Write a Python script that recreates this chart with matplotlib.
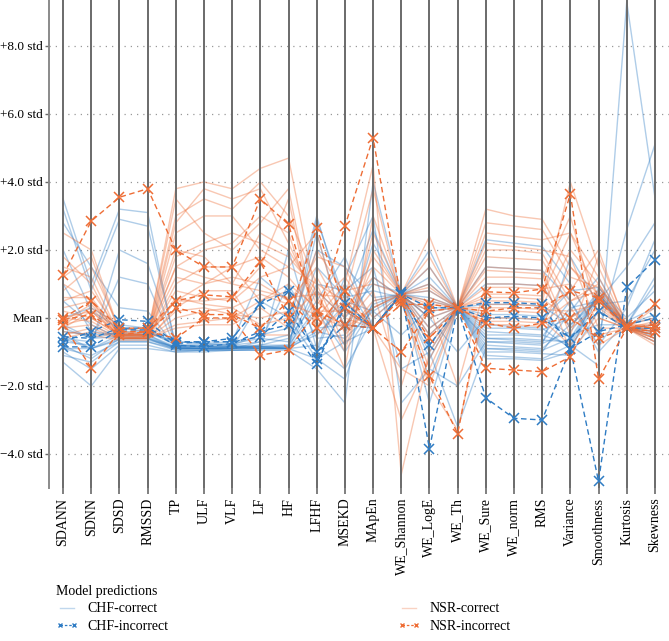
import matplotlib
matplotlib.use("Agg")
import matplotlib.pyplot as plt
from matplotlib.lines import Line2D

plt.rcParams['font.family'] = ['Liberation Serif', 'DejaVu Serif']

# Feature axes of the parallel-coordinates plot
features = ['SDANN', 'SDNN', 'SDSD', 'RMSSD', 'TP', 'ULF', 'VLF', 'LF', 'HF', 'LFHF',
            'MSEKD', 'MApEn', 'WE_Shannon', 'WE_LogE', 'WE_Th', 'WE_Sure', 'WE_norm',
            'RMS', 'Variance', 'Smoothness', 'Kurtosis', 'Skewness']

# y ticks in std units
ytick_vals = [-4, -2, 0, 2, 4, 6, 8]
ytick_labels = ['\u22124.0 std', '\u22122.0 std', 'Mean', '+2.0 std', '+4.0 std', '+6.0 std', '+8.0 std']

# CHF samples classified correctly (standardised values, one row per sample)
chf_correct = [
    [3.5, 1.0, 3.2, 3.1, -0.9, -0.9, -0.85, -0.9, -0.9, 2.9, 0.5, 0.2, 0.7, 0.0, 0.3, -0.8, -0.85, -0.9, -0.2, 0.6, -0.3, -0.4],
    [3.2, 0.8, 2.9, 2.7, -0.8, -0.85, -0.8, -0.85, -0.85, 2.5, -0.4, 1.2, 0.6, -1.0, 0.3, -0.6, -0.65, -0.7, 0.3, 0.5, -0.2, 0.1],
    [-1.3, -2.0, -0.9, -0.9, -1.0, -0.95, -0.95, -0.95, -0.95, -1.5, -2.5, 4.0, 0.7, 1.5, 0.3, -1.1, -1.15, -1.2, -0.8, -1.4, 9.3, 3.55],
    [-0.5, -0.9, -0.5, -0.5, -0.85, -0.9, -0.9, -0.8, -0.6, 0.5, 1.8, -0.3, 0.7, 2.0, 0.3, 2.3, 2.2, 2.1, 1.0, -0.5, 2.6, 5.1],
    [-0.8, -1.2, -0.6, -0.6, -0.95, -0.95, -0.9, 0.5, 0.0, -1.2, -1.8, 0.5, 0.7, -2.5, 0.3, -0.4, -0.45, -0.5, -0.8, 0.7, -0.3, -0.7],
    [-0.3, -0.6, -0.4, -0.4, -0.8, -0.85, -0.85, -0.85, -0.8, 1.0, 0.8, 1.5, -1.5, -1.0, -3.2, -0.9, -0.95, -1.0, 0.2, 1.2, -0.3, -0.5],
    [-0.9, -1.1, -0.7, -0.7, -0.9, -0.9, -0.9, -0.7, 1.0, -0.6, -0.5, 2.2, 0.7, 0.5, 0.3, -1.2, -1.2, -1.25, -1.0, 0.9, 0.0, 0.8],
    [2.0, 0.2, -0.3, -0.4, -0.7, -0.75, -0.8, -0.5, -0.3, 3.0, 0.2, -0.3, 0.7, -1.8, 0.3, 0.1, 0.1, 0.05, -0.5, -0.2, -0.2, 1.2],
    [-0.6, -0.7, 1.2, 1.0, -0.9, -0.9, -0.85, -0.9, -0.9, 0.2, -1.0, 0.3, 0.7, 1.0, 0.3, -0.2, -0.25, -0.3, -0.9, 0.6, -0.3, -0.2],
    [-1.0, -1.5, -0.8, -0.8, -1.0, -1.0, -0.95, -0.95, 2.0, -0.9, 1.2, 3.0, -2.5, -1.5, -2.0, -0.7, -0.75, -0.8, 1.8, 0.4, 0.5, 2.0],
    [0.5, -0.2, -0.6, -0.6, -0.85, -0.9, -0.9, -0.9, -0.85, -0.3, -0.2, -0.3, 0.7, -0.5, 0.3, 1.0, 1.0, 0.95, -0.3, 0.8, -0.2, 0.0],
    [-0.7, -0.8, 2.0, 1.6, -0.8, -0.8, -0.75, -0.6, -0.7, 1.5, 0.6, 0.8, 0.6, 0.2, 0.3, -0.5, -0.5, -0.55, 0.5, -1.0, -0.1, 0.3],
    [1.0, -0.4, -0.5, -0.5, -0.9, -0.9, -0.9, -0.85, -0.9, -0.8, -1.5, 0.0, 0.7, 0.8, 0.3, -0.9, -0.9, -0.95, -0.6, 0.7, -0.2, -0.6],
    [-1.1, -1.3, -0.7, -0.7, -0.95, -0.95, -0.95, -0.9, -0.9, 0.8, 0.0, 1.0, 0.75, -0.3, 0.3, 0.4, 0.4, 0.35, -0.2, 0.5, 1.5, 2.8],
    [-0.4, -0.5, -0.45, -0.45, -0.7, -0.75, -0.7, 1.2, 0.5, -1.0, 1.0, -0.3, 0.7, 1.2, 0.3, -0.3, -0.3, -0.35, 0.0, 0.6, -0.3, -0.4],
    [2.8, 1.5, 0.3, 0.2, -0.85, -0.85, -0.85, -0.8, -0.8, 0.3, -0.8, 0.4, 0.7, -0.8, 0.3, -1.0, -1.0, -1.05, -1.1, 0.2, -0.3, -0.3],
    [-0.2, -0.6, -0.55, -0.55, -0.9, -0.9, -0.9, -0.85, -0.85, -0.5, 0.4, 2.6, 0.7, 0.0, -1.0, 0.0, 0.0, -0.05, 0.8, 0.9, -0.2, 1.0],
    [-0.9, -0.9, -0.65, -0.65, -0.85, -0.85, -0.85, -0.85, -0.9, -1.2, -0.7, -0.3, 0.7, -1.2, 0.3, -0.7, -0.7, -0.75, -0.4, 0.6, -0.3, -0.5],
    [0.0, 0.3, -0.2, -0.3, -0.8, -0.8, -0.8, -0.7, -0.5, 2.0, 1.5, 0.6, 0.7, 0.6, 0.3, 1.5, 1.45, 1.4, 0.5, -0.8, 0.3, 2.3],
    [-0.6, -0.9, -0.6, -0.6, -0.9, -0.9, -0.9, -0.9, -0.9, -0.4, -0.6, 0.2, -0.5, 0.3, 0.3, -0.6, -0.6, -0.65, -0.7, 0.7, -0.3, -0.3],
]

# NSR samples classified correctly
nsr_correct = [
    [2.5, 2.0, -0.4, -0.5, 3.8, 4.0, 3.8, 4.4, 4.7, 0.5, -0.3, 1.5, 0.7, 0.5, 0.3, 3.2, 3.0, 2.9, 1.5, 0.5, -0.3, -0.5],
    [1.5, 1.2, -0.5, -0.5, 3.0, 3.5, 3.2, 4.0, 3.0, 1.0, 0.5, -0.3, 0.7, 1.5, 0.3, 2.5, 2.4, 2.3, 2.5, 1.2, -0.3, -0.7],
    [0.3, 0.5, -0.6, -0.6, 2.5, 3.0, 3.0, 2.0, 1.5, 2.5, -0.5, 0.5, 0.7, -0.8, 0.3, 2.0, 2.0, 1.9, 0.5, 0.8, -0.3, -0.4],
    [-0.2, 0.0, -0.5, -0.55, 1.5, 2.0, 2.2, 3.0, 2.5, 0.0, 1.0, 4.5, -4.6, -1.0, 0.3, 1.5, 1.45, 1.4, -0.5, 1.8, -0.2, -0.2],
    [0.8, 1.5, -0.3, -0.4, 0.5, 1.0, 1.2, 1.0, 0.5, 1.5, 0.0, -0.3, 0.7, 2.4, 0.3, 1.2, 1.2, 1.15, 3.0, 0.0, -0.3, -0.5],
    [-0.5, -0.3, -0.6, -0.6, 0.0, 0.2, 0.3, -0.2, 0.0, 0.8, -1.0, 2.0, 0.7, 0.0, 0.3, 0.9, 0.9, 0.85, 1.0, -0.5, -0.3, -0.6],
    [1.0, 0.5, -0.45, -0.5, 3.5, 2.5, 2.0, 2.8, 3.8, -0.3, 0.8, 1.0, 0.7, 0.8, 0.3, 0.6, 0.6, 0.55, 0.0, 0.5, -0.3, -0.3],
    [0.0, 0.2, -0.55, -0.6, 0.2, 0.3, 0.1, 0.0, 0.2, 1.8, 1.5, -0.3, -1.5, -2.0, -3.3, 0.4, 0.4, 0.35, 2.0, 1.0, -0.2, 0.0],
    [-0.3, -0.2, -0.6, -0.6, 1.0, 1.5, 1.5, 0.5, 1.0, 0.3, -1.5, 3.0, 0.7, -0.5, 0.3, 0.2, 0.2, 0.15, 0.8, 2.0, -0.3, -0.6],
    [0.5, 0.8, -0.4, -0.45, 2.0, 1.8, 1.0, 2.5, 2.0, 0.6, -0.4, 0.3, 0.7, 1.0, 0.3, 0.0, 0.0, -0.05, -0.8, 0.2, -0.3, -0.7],
    [-0.1, 0.4, -0.5, -0.5, 0.5, 0.5, 0.6, 1.5, 3.5, -0.5, 0.3, 1.2, 0.6, 0.2, 0.3, -0.2, -0.2, -0.25, 1.5, 0.7, -0.2, -0.4],
    [1.8, 1.0, -0.6, -0.6, -0.3, -0.2, -0.2, 0.3, -0.3, 2.0, 0.7, -0.3, 0.7, -1.5, 0.3, 1.8, 1.75, 1.7, 0.3, -0.8, -0.3, -0.5],
    [-0.4, -0.5, -0.65, -0.65, 0.3, 0.8, 0.8, -0.5, -0.5, 1.2, -0.2, 0.8, -2.0, 0.6, 0.3, 0.5, 0.5, 0.45, 4.0, 1.5, -0.3, -0.8],
    [0.2, 0.0, -0.5, -0.5, 1.2, 1.0, 1.5, 1.8, 1.2, 0.2, 0.2, -0.3, 0.7, 0.3, -2.0, 1.0, 1.0, 0.95, -0.3, 0.3, -0.3, 0.3],
    [-0.2, 0.3, -0.55, -0.55, 2.8, 3.8, 3.5, 3.8, 2.2, 0.4, 1.2, 0.0, 0.7, 1.8, 0.3, 2.8, 2.7, 2.6, 1.2, 0.9, -0.2, -0.3],
    [0.6, 0.6, -0.5, -0.55, 0.8, 0.6, 0.5, 1.2, 1.5, 1.0, -0.8, 2.5, 0.7, -0.3, 0.3, 0.7, 0.7, 0.65, 2.5, 0.6, -0.3, -0.5],
    [-0.6, -0.4, -0.6, -0.6, -0.2, -0.1, 0.0, 0.5, 0.8, -0.2, 0.5, -0.3, -3.0, -1.2, 0.3, -0.1, -0.1, -0.15, 0.5, 1.0, -0.3, -0.2],
    [1.2, 1.8, -0.45, -0.5, 1.8, 2.2, 2.5, 2.2, 1.8, 0.8, 0.0, 1.8, 0.7, 0.9, 0.3, 1.4, 1.35, 1.3, -1.0, 0.0, -0.3, -0.6],
    [0.0, -0.1, -0.55, -0.6, 0.6, 0.4, 0.3, 0.7, 0.4, 0.1, -0.3, 0.3, 0.7, 0.4, 0.3, 0.3, 0.3, 0.25, 0.2, 0.4, -0.3, -0.4],
    [-0.3, 0.2, -0.5, -0.5, 1.5, 1.2, 1.0, 0.8, 0.6, 0.7, 0.6, 3.8, 0.5, -2.0, 0.3, 2.2, 2.1, 2.0, 1.8, -0.3, -0.3, -0.1],
]

# misclassified samples
chf_incorrect = [
    [-0.85, -0.85, -0.35, -0.35, -0.8, -0.85, -0.75, -0.4, -0.2, -1.35, 0.45, -0.3, 0.75, -3.85, 0.3, -2.35, -2.95, -3.0, -0.9, -4.8, 0.9, 1.7],
    [-0.7, -0.4, -0.05, -0.1, -0.75, -0.7, -0.7, -0.55, 0.2, -1.0, -0.2, -0.3, 0.7, 0.3, 0.3, 0.45, 0.45, 0.4, -0.9, -0.4, -0.2, 0.0],
    [-0.55, -0.6, -0.3, -0.3, -0.7, -0.7, -0.6, 0.4, 0.8, -1.2, 0.3, -0.3, 0.7, -0.8, 0.3, 0.0, 0.05, 0.0, -0.6, 0.2, -0.3, -0.3],
]

nsr_incorrect = [
    [1.25, 2.85, 3.55, 3.8, 2.0, 1.5, 1.5, 3.5, 2.75, 0.0, 2.7, 5.3, 0.5, -1.7, -3.4, 0.77, 0.74, 0.85, 3.65, -1.8, -0.3, 0.4],
    [0.0, 0.5, -0.3, -0.3, 0.5, 0.68, 0.62, 1.65, 0.0, 2.65, 0.3, -0.3, -1.0, 0.2, 0.3, -1.48, -1.53, -1.58, -1.14, 0.5, -0.3, -0.2],
    [-0.2, -1.47, -0.4, -0.4, -0.6, 0.0, 0.0, -1.1, -0.94, 0.2, -0.2, -0.3, 0.6, -0.6, 0.3, -0.15, -0.3, -0.15, 0.0, -0.6, -0.3, -0.4],
    [-0.05, 0.1, -0.5, -0.4, 0.3, 0.1, 0.1, -0.3, 0.5, -0.3, 0.8, -0.3, 0.4, 0.4, 0.3, 0.2, 0.3, 0.3, 0.8, 0.6, -0.2, -0.3],
]

blue = '#2f7cc4'
orange = '#ee6d35'

fig = plt.figure(figsize=(6.69, 6.41), dpi=100)
ax = fig.add_axes([49 / 669, 1 - 488 / 641, 1 - 49 / 669, 488 / 641])

x = list(range(len(features)))

for row in chf_correct:
    ax.plot(x, row, color=blue, lw=1.0, alpha=0.38, zorder=2)
for row in nsr_correct:
    ax.plot(x, row, color=orange, lw=1.0, alpha=0.38, zorder=2)

# vertical feature axes
for xi in x:
    ax.axvline(xi, color='#6a6a6a', lw=1.4, zorder=3)

for row in chf_incorrect:
    ax.plot(x, row, color=blue, lw=1.0, ls=(0, (4, 2.5)), marker='x', ms=7, mew=1.1, zorder=4)
for row in nsr_incorrect:
    ax.plot(x, row, color=orange, lw=1.0, ls=(0, (4, 2.5)), marker='x', ms=7, mew=1.1, zorder=4)

ax.set_xlim(-0.5, len(features) - 0.5)
ax.set_ylim(-5, 9.35)
ax.set_xticks(x)
ax.set_xticklabels(features, rotation=90, fontsize=10)
ax.set_yticks(ytick_vals)
ax.set_yticklabels(ytick_labels, fontsize=9.5)
ax.yaxis.grid(True, ls=(0, (1, 4)), color='#999999', lw=0.9)
ax.tick_params(axis='x', length=4, color='#6a6a6a', width=1.2, pad=3)
ax.tick_params(axis='y', length=3, color='#6a6a6a', width=1.0, pad=1.5)
for side in ['top', 'right', 'bottom']:
    ax.spines[side].set_visible(False)
ax.spines['left'].set_color('#8a8a8a')
ax.spines['left'].set_linewidth(1.4)

handles = [
    Line2D([], [], color=blue, lw=1.0, alpha=0.3),
    Line2D([], [], color=blue, lw=0.9, ls=(0, (2, 1.5)), marker='x', ms=3.5),
    Line2D([], [], color=orange, lw=1.0, alpha=0.3),
    Line2D([], [], color=orange, lw=0.9, ls=(0, (2, 1.5)), marker='x', ms=3.5),
]
labels = ['CHF-correct', 'CHF-incorrect', 'NSR-correct', 'NSR-incorrect']
leg = fig.legend(handles, labels, loc='upper left', bbox_to_anchor=(43 / 669, 1 - 572 / 641),
                 ncol=2, frameon=False, title='Model predictions', fontsize=10,
                 title_fontsize=10, alignment='left', columnspacing=16.5, numpoints=2,
                 handlelength=1.6, handletextpad=0.7, labelspacing=0.35)

fig.savefig('out.png', dpi=100)
